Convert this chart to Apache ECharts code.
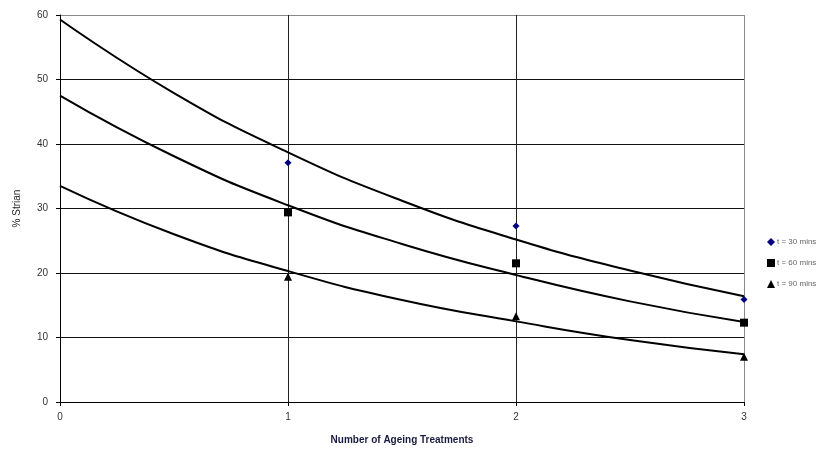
<!DOCTYPE html>
<html>
<head>
<meta charset="utf-8">
<script src="https://cdn.jsdelivr.net/npm/echarts@6/dist/echarts.min.js"></script>
<style>html,body{margin:0;padding:0;background:#fff}#c{width:840px;height:450px}</style>
</head>
<body>
<div id="c"></div>
<script>
// Measured points
var treatments = [1, 2, 3];
var strain30 = [37.1, 27.3, 15.9];
var strain60 = [29.4, 21.5, 12.3];
var strain90 = [19.4, 13.3, 7.0];
// Trendline values
var trendX = [0, 0.5, 1, 1.5, 2, 2.5, 3];
var trend30 = [59.3, 47.9, 38.7, 31.2, 25.2, 20.4, 16.4];
var trend60 = [47.5, 38.1, 30.5, 24.5, 19.7, 15.6, 12.4];
var trend90 = [33.5, 26.0, 20.3, 15.8, 12.5, 9.6, 7.4];
var seriesNames = ['t = 30 mins', 't = 60 mins', 't = 90 mins'];
var xTicks = [0, 1, 2, 3];

function pairs(xs, ys) { return xs.map(function (x, i) { return [x, ys[i]]; }); }

var chart = echarts.init(document.getElementById('c'));
var font = 'Liberation Sans, Arial, sans-serif';
var trendStyle = { color: '#000', width: 2 };
chart.setOption({
  animation: false,
  backgroundColor: '#fff',
  grid: { left: 60, right: 96, top: 15, bottom: 48, containLabel: false },
  legend: {
    orient: 'vertical', left: 762, top: 233, itemGap: 13,
    itemWidth: 8, itemHeight: 8,
    data: seriesNames,
    textStyle: { fontSize: 8, color: '#666', fontFamily: font, padding: [0, 0, 0, -3] }
  },
  xAxis: {
    type: 'value', min: 0, max: 3, interval: 1,
    name: 'Number of Ageing Treatments', nameLocation: 'middle', nameGap: 33,
    nameTextStyle: { fontSize: 10, fontWeight: 'bold', color: '#1a1a40', fontFamily: font },
    axisLine: { show: true, lineStyle: { color: '#000', width: 1 } },
    axisTick: { show: true, length: 4, lineStyle: { color: '#000' } },
    axisLabel: { fontSize: 10, color: '#333', fontFamily: font, margin: 10,
      formatter: function (v) { return xTicks.indexOf(v) >= 0 ? String(v) : ''; } },
    splitLine: { show: true, lineStyle: { color: ['#000', '#222', '#222', '#888'], width: 1 } }
  },
  yAxis: {
    type: 'value', min: 0, max: 60, interval: 10,
    name: '% Strian', nameLocation: 'middle', nameGap: 38, nameRotate: 90,
    nameTextStyle: { fontSize: 10, color: '#222', fontFamily: font },
    axisLine: { show: true, lineStyle: { color: '#000', width: 1 } },
    axisTick: { show: true, length: 4, lineStyle: { color: '#000' } },
    axisLabel: { fontSize: 10, color: '#333', fontFamily: font, margin: 12 },
    splitLine: { show: true, lineStyle: { color: ['#000', '#111', '#111', '#111', '#111', '#111', '#888'], width: 1 } }
  },
  series: [
    { name: 'trend30', type: 'line', smooth: true, showSymbol: false, data: pairs(trendX, trend30), lineStyle: trendStyle, z: 2 },
    { name: 'trend60', type: 'line', smooth: true, showSymbol: false, data: pairs(trendX, trend60), lineStyle: trendStyle, z: 2 },
    { name: 'trend90', type: 'line', smooth: true, showSymbol: false, data: pairs(trendX, trend90), lineStyle: trendStyle, z: 2 },
    { name: seriesNames[0], type: 'scatter', symbol: 'diamond', symbolSize: 7, itemStyle: { color: '#000080', opacity: 1 }, data: pairs(treatments, strain30), z: 3 },
    { name: seriesNames[1], type: 'scatter', symbol: 'rect', symbolSize: 8, itemStyle: { color: '#000', opacity: 1 }, data: pairs(treatments, strain60), z: 3 },
    { name: seriesNames[2], type: 'scatter', symbol: 'triangle', symbolSize: 8, itemStyle: { color: '#000', opacity: 1 }, data: pairs(treatments, strain90), z: 3 }
  ]
});
</script>
</body>
</html>
